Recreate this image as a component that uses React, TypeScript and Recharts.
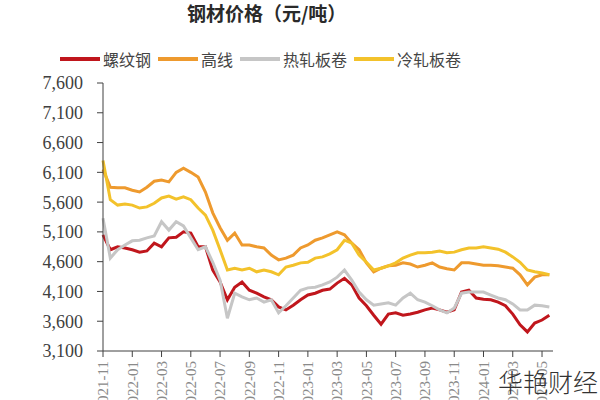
import { LineChart, Line, XAxis, YAxis } from 'recharts';

// half-month steps, t = months since 2021-11
const steps = [
  0, 0.5, 1, 1.5, 2, 2.5, 3, 3.5, 4, 4.5, 5, 5.5, 6, 6.5, 7, 7.5, 8, 8.5, 9, 9.5,
  10, 10.5, 11, 11.5, 12, 12.5, 13, 13.5, 14, 14.5, 15, 15.5, 16, 16.5, 17, 17.5, 18, 18.5, 19, 19.5,
  20, 20.5, 21, 21.5, 22, 22.5, 23, 23.5, 24, 24.5, 25, 25.5, 26, 26.5, 27, 27.5, 28, 28.5, 29, 29.5,
  30, 30.5,
];

const rebar = [
  5050, 4800, 4850, 4830, 4800, 4760, 4780, 4910, 4850, 5000, 5010, 5100, 5080, 4850, 4850, 4460, 4260, 3960, 4170, 4260,
  4120, 4070, 4010, 3960, 3840, 3790, 3870, 3960, 4040, 4070, 4120, 4140, 4240, 4320, 4210, 3990, 3860, 3700, 3550, 3720,
  3740, 3700, 3720, 3750, 3790, 3820, 3790, 3750, 3790, 4090, 4120, 3990, 3970, 3960, 3920, 3860, 3720, 3540, 3420, 3570,
  3620, 3700,
];

const wireRod = [
  6150, 5850, 5840, 5840, 5800, 5770, 5850, 5950, 5970, 5940, 6100, 6170, 6100, 6020, 5770, 5420, 5170, 4960, 5080, 4880,
  4880, 4850, 4830, 4710, 4630, 4660, 4710, 4830, 4880, 4960, 5000, 5050, 5100, 5050, 4910, 4800, 4580, 4430, 4490, 4530,
  4540, 4580, 4560, 4510, 4540, 4580, 4510, 4480, 4460, 4580, 4580, 4560, 4540, 4540, 4530, 4510, 4490, 4380, 4210, 4340,
  4380, 4380,
];

const hotRolled = [
  5330, 4660, 4800, 4880, 4950, 4960, 5000, 5030, 5270, 5130, 5270, 5200, 5000, 4800, 4850, 4590, 4290, 3650, 4070, 4010,
  3960, 3990, 3920, 3960, 3740, 3860, 3990, 4120, 4160, 4170, 4210, 4260, 4340, 4460, 4290, 4090, 3960, 3870, 3890, 3910,
  3870, 3990, 4070, 3960, 3920, 3860, 3790, 3740, 3820, 4070, 4090, 4090, 4090, 4040, 3990, 3960, 3890, 3790, 3790, 3870,
  3860, 3840,
];

const coldRolled = [
  6300, 5640, 5550, 5570, 5550, 5500, 5520, 5580, 5670, 5700, 5650, 5690, 5640, 5500, 5380, 5130, 4800, 4460, 4490, 4460,
  4490, 4430, 4460, 4430, 4380, 4510, 4540, 4580, 4590, 4660, 4680, 4730, 4800, 4960, 4910, 4710, 4590, 4460, 4490, 4530,
  4580, 4660, 4710, 4750, 4750, 4760, 4780, 4750, 4760, 4800, 4830, 4830, 4850, 4830, 4810, 4760, 4680, 4590, 4460, 4430,
  4410, 4380,
];

const tickLabels = [
  '2021-11', '2022-01', '2022-03', '2022-05', '2022-07', '2022-09', '2022-11', '2023-01',
  '2023-03', '2023-05', '2023-07', '2023-09', '2023-11', '2024-01', '2024-03', '2024-05',
];
const xTicks = tickLabels.map((_, i) => i * 2);
const yTicks = [3100, 3600, 4100, 4600, 5100, 5600, 6100, 6600, 7100, 7600];

const series = [
  { key: 'rebar', name: '螺纹钢', color: '#C0161C' },
  { key: 'wireRod', name: '高线', color: '#EE9A2E' },
  { key: 'hotRolled', name: '热轧板卷', color: '#C6C6C6' },
  { key: 'coldRolled', name: '冷轧板卷', color: '#F3C22B' },
];

const chartData = steps.map((t, i) => ({
  t,
  rebar: rebar[i],
  wireRod: wireRod[i],
  hotRolled: hotRolled[i],
  coldRolled: coldRolled[i],
}));

const cjk = '"Noto Sans CJK SC", "Noto Sans", sans-serif';
const serif = '"Liberation Serif", "DejaVu Serif", serif';

const DateTick = ({ x, y, payload }: any) => {
  const label = tickLabels[Math.round(payload.value / 2)] ?? '';
  return (
    <text
      x={x}
      y={y}
      transform={`rotate(-90 ${x} ${y})`}
      textAnchor="end"
      dy="0.35em"
      fill="#8a8a8a"
      fontSize={15}
      fontFamily={serif}
    >
      {label}
    </text>
  );
};

function App() {
  return (
    <div style={{ position: 'absolute', left: 0, top: 0, width: 600, height: 400, background: '#fff', overflow: 'hidden' }}>
      <div
        style={{
          position: 'absolute', left: 187, top: 1, lineHeight: '24px', fontSize: 19,
          fontWeight: 700, fontFamily: cjk, color: '#2a2a2a', whiteSpace: 'nowrap',
        }}
      >
        钢材价格（元/吨）
      </div>

      <div
        style={{
          position: 'absolute', left: 60, top: 49, height: 20, display: 'flex', alignItems: 'center',
          fontFamily: cjk, fontSize: 16, color: '#444', whiteSpace: 'nowrap',
        }}
      >
        {series.map(s => (
          <div key={s.key} style={{ display: 'flex', alignItems: 'center', marginRight: 7 }}>
            <span style={{ display: 'inline-block', width: 40, height: 4, background: s.color, marginRight: 3 }} />
            <span style={{ lineHeight: '20px' }}>{s.name}</span>
          </div>
        ))}
      </div>

      <LineChart width={600} height={400} data={chartData} margin={{ top: 83, right: 47, bottom: 0, left: 0 }}>
        <XAxis
          dataKey="t"
          type="number"
          domain={[0, 30.75]}
          ticks={xTicks}
          interval={0}
          height={49}
          tickSize={6}
          tickMargin={4}
          stroke="#404040"
          tick={<DateTick />}
        />
        <YAxis
          type="number"
          domain={[3100, 7600]}
          ticks={yTicks}
          interval={0}
          width={103}
          tickSize={6}
          tickMargin={14}
          stroke="#404040"
          tickFormatter={(v: number) => v.toLocaleString('en-US')}
          tick={{ fill: '#404040', fontSize: 18, fontFamily: serif }}
        />
        {series.map(s => (
          <Line
            key={s.key}
            dataKey={s.key}
            name={s.name}
            stroke={s.color}
            strokeWidth={3}
            dot={false}
            type="linear"
            isAnimationActive={false}
          />
        ))}
      </LineChart>

      <div
        style={{
          position: 'absolute', left: 498, top: 366, fontSize: 25, lineHeight: '30px',
          fontFamily: cjk, fontWeight: 300, color: '#333', whiteSpace: 'nowrap',
        }}
      >
        华艳财经
      </div>
    </div>
  );
}

export default App;
